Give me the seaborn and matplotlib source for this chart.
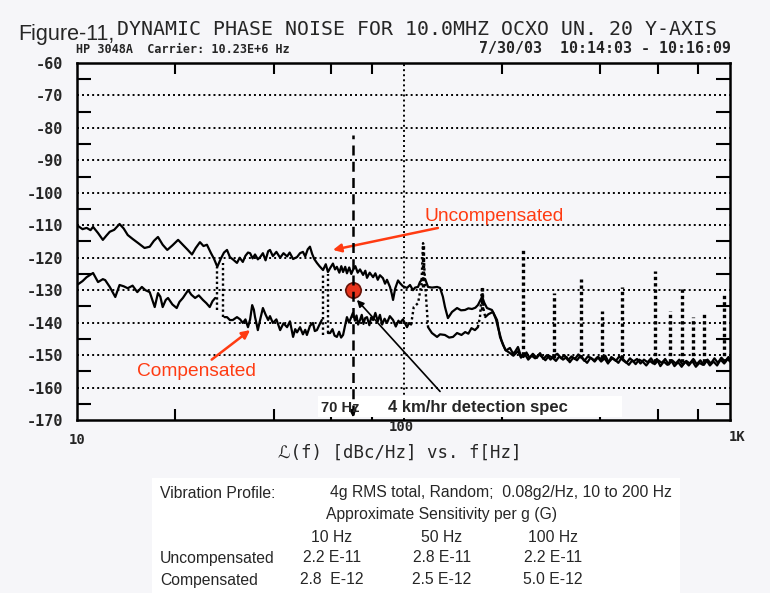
import matplotlib
matplotlib.use("Agg")
import matplotlib.pyplot as plt
from matplotlib.patches import Rectangle
from matplotlib.ticker import NullFormatter
import seaborn as sns

# ---- uncompensated trace (Hz, dBc/Hz) ----
unc_freq = [10.0, 10.4, 10.7, 11.0, 11.2, 11.6, 12.0, 12.3, 12.6, 13.0, 13.5, 13.9, 14.3, 14.8,
            15.4, 16.1, 16.7, 17.2, 17.7, 18.3, 18.9, 19.6, 20.4, 21.0, 21.8, 22.5, 23.1, 23.8,
            24.4, 25.0, 25.7, 26.3, 26.9, 27.6, 28.2, 28.8, 29.4, 30.1, 30.9, 31.5, 32.2, 32.8,
            33.4, 33.9, 34.5, 35.1, 35.8, 36.4, 37.1, 37.8, 38.5, 39.0, 39.8, 40.8, 41.9, 42.9,
            44.0, 44.8, 45.9, 47.2, 48.2, 49.2, 50.0, 50.9, 51.7, 52.5, 53.3, 54.3, 55.3, 56.7,
            57.8, 58.7, 59.6, 60.8, 61.7, 62.5, 63.6, 64.5, 65.3, 66.3, 67.1, 68.2, 69.2, 70.0,
            71.2, 72.4, 73.6, 75.2, 76.4, 77.3, 78.8, 80.7, 82.0, 83.4, 84.7, 86.5, 87.8, 89.0,
            90.9, 92.0, 92.9, 94.3, 96.2, 97.5, 99.6, 102.5, 104.7, 106.9, 108.5, 110.8, 112.3,
            114.8, 116.5, 118.9, 122.2, 126.7, 129.4, 132.0, 134.0, 136.8, 140.8, 145.9, 150.0,
            154.3, 158.0, 162.1, 166.0, 169.0, 174.0, 177.0, 180.2, 186.6, 193.4, 197.5, 201.8,
            206.0, 211.8, 216.4, 219.5, 224.2,
            228, 233, 238, 243, 249, 256, 262, 268, 275, 282, 289, 296, 304, 311, 319, 327, 335,
            343, 350, 358, 367, 376, 385, 395, 405, 415, 425, 436, 447, 458, 470, 482, 494, 506,
            519, 532, 545, 559, 573, 588, 603, 618, 633, 649, 665, 682, 699, 717, 735, 753, 772,
            791, 811, 832, 853, 874, 896, 918, 941, 965, 989, 1000]
unc_db = [-110.0, -111.2, -110.8, -111.5, -110.5, -112.4, -114.5, -113.2, -112.0, -111.4, -109.6,
          -111.0, -113.0, -114.2, -115.5, -117.0, -116.6, -114.8, -113.6, -116.0, -117.6, -116.2,
          -114.5, -115.8, -117.5, -119.0, -117.0, -115.2, -116.4, -116.0, -118.5, -120.4, -122.8,
          -120.2, -118.4, -117.6, -119.8, -120.6, -121.6, -120.0, -121.3, -119.4, -118.4, -118.6,
          -120.2, -119.0, -120.5, -119.8, -118.6, -120.8, -118.0, -117.6, -119.5, -118.2, -120.0,
          -118.6, -119.6, -118.4, -120.4, -119.8, -118.6, -118.2, -119.6, -117.4, -116.6, -118.8,
          -120.4, -121.6, -122.6, -123.8, -122.0, -124.4, -123.2, -121.8, -123.6, -122.8, -124.6,
          -122.6, -124.4, -122.8, -124.8, -123.0, -125.0, -123.8, -122.6, -124.6, -123.6, -125.3,
          -124.0, -126.2, -124.6, -126.0, -124.8, -126.8, -125.4, -126.3, -128.0, -126.8, -129.0,
          -131.0, -133.0, -129.5, -127.0, -127.8, -128.8, -129.3, -128.4, -130.0, -129.2, -129.0,
          -127.5, -126.3, -126.6, -129.0, -129.2, -129.0, -129.3, -132.0, -135.2, -138.6, -136.7,
          -135.5, -136.2, -136.1, -135.6, -135.8, -135.4, -134.6, -132.1, -134.0, -135.5, -136.1,
          -139.2, -144.4, -146.9, -148.6, -147.8, -149.5, -149.0, -147.5,
          -149.8, -150.6, -149.2, -150.8, -149.6, -150.9, -149.4, -151.2, -150.0, -151.4, -150.2,
          -149.6, -151.0, -150.0, -151.6, -150.4, -151.2, -149.8, -150.6, -151.8, -150.4, -151.0,
          -152.0, -150.6, -151.4, -150.2, -152.2, -151.0, -151.8, -150.4, -151.6, -152.4, -151.0,
          -152.0, -151.2, -152.6, -151.4, -152.2, -151.0, -152.8, -151.6, -152.4, -151.2, -152.9,
          -151.6, -152.6, -151.4, -153.0, -151.8, -152.6, -151.2, -152.8, -151.6, -153.0, -151.4,
          -152.6, -151.0, -152.4, -150.8, -152.0, -150.6, -151.4]

# ---- compensated trace, recorded in segments ----
comp_seg1_freq = [10.0, 10.4, 10.7, 11.2, 11.6, 12.0, 12.2, 12.6, 13.1, 13.5, 13.9, 14.3, 14.8,
                  15.3, 15.8, 16.2, 16.7, 17.3, 17.7, 18.0, 18.3, 18.7, 19.0, 19.6, 20.2, 20.6,
                  21.1, 21.9, 22.4, 23.0, 23.6, 24.3, 24.9, 25.5, 26.0, 26.5]
comp_seg1_db = [-128.4, -127.2, -126.0, -124.7, -127.5, -126.6, -126.9, -129.0, -132.1, -128.4,
                -128.8, -129.4, -128.6, -130.6, -129.0, -130.0, -130.6, -135.2, -130.9, -132.0,
                -135.2, -133.0, -132.4, -134.4, -135.5, -133.6, -132.4, -130.0, -131.4, -132.4,
                -131.6, -133.0, -134.0, -135.2, -133.4, -132.4]
comp_seg2_freq = [28.3, 28.8, 29.4, 30.0, 30.9, 31.6, 32.2, 32.8, 33.4, 33.9, 34.4, 34.8, 35.1,
                  35.5, 35.8, 36.4, 37.1, 37.8, 38.5, 39.0, 39.8, 40.8, 41.9, 42.9, 44.0, 44.9,
                  45.9, 46.6, 47.2, 48.2, 49.2, 50.0, 50.6, 51.7, 52.8, 53.5, 54.3, 55.3, 56.2]
comp_seg2_db = [-138.3, -138.3, -139.2, -139.2, -138.3, -139.0, -140.1, -139.0, -141.4, -139.0,
                -134.6, -136.0, -138.3, -140.5, -142.3, -139.0, -135.5, -137.5, -139.2, -138.0,
                -140.1, -139.0, -142.3, -140.2, -141.4, -139.6, -144.4, -142.0, -143.0, -141.4,
                -143.6, -142.2, -143.8, -141.0, -140.1, -142.6, -142.3, -140.6, -139.2]
comp_seg3_freq = [58.7, 59.6, 60.6, 61.5, 62.5, 63.5, 64.4, 65.3, 66.2, 67.1, 68.1, 69.0, 70.0,
                  71.0, 71.8, 72.6, 73.6, 74.5, 75.4, 76.3, 77.3, 78.6, 79.6, 80.7, 82.0, 83.4,
                  84.7, 86.0, 87.5, 89.0, 90.8, 92.9, 94.7, 96.5, 97.5, 99.6, 102.5, 104.0, 105.5]
comp_seg3_db = [-143.2, -143.2, -142.0, -144.0, -144.4, -142.8, -144.6, -143.8, -141.0, -138.3,
                -140.0, -138.6, -137.0, -139.4, -137.8, -140.6, -139.2, -137.6, -140.4, -138.6,
                -138.3, -140.8, -138.4, -139.2, -137.0, -139.6, -137.6, -140.6, -138.8, -140.1,
                -138.0, -139.2, -141.2, -139.4, -140.1, -139.0, -141.4, -140.1, -140.6]
comp_seg4_freq = [118.9, 122.2, 126.7, 129.4, 133.9, 138.0, 141.8, 145.9, 150.5, 154.5, 158.0,
                  161.5, 165.5, 169.0]
comp_seg4_db = [-141.4, -143.2, -144.4, -143.6, -143.8, -144.6, -144.4, -143.2, -143.8, -142.9,
                -143.4, -141.7, -142.3, -141.4]
comp_seg5_freq = [178, 182, 187.9, 192, 194.6, 199.5, 205, 212, 217, 224,
                  229, 235, 241, 247, 253, 260, 266, 272, 279, 286, 293, 300, 308, 316, 323, 331,
                  340, 348, 357, 365, 374, 384, 393, 403, 413, 423, 433, 444, 455, 466, 478, 490,
                  502, 514, 527, 540, 554, 568, 582, 597, 612, 627, 643, 660, 676, 694, 711, 729,
                  748, 766, 786, 806, 826, 847, 868, 890, 913, 936, 960, 984, 1000]
comp_seg5_db = [-138.3, -137.4, -136.7, -139.0, -141.4, -145.4, -148.4, -149.4, -150.2, -148.8,
                -150.8, -149.6, -151.4, -150.2, -151.0, -149.8, -150.6, -151.6, -150.2, -150.8,
                -151.8, -150.4, -151.4, -150.6, -152.2, -150.8, -151.6, -150.2, -151.4, -152.4,
                -150.8, -151.6, -150.6, -152.0, -151.0, -152.6, -150.6, -151.4, -152.4, -150.8,
                -152.0, -153.0, -151.6, -152.8, -151.4, -152.0, -153.2, -151.8, -152.6, -151.2,
                -153.4, -152.0, -153.0, -151.6, -153.4, -152.2, -153.6, -152.0, -153.2, -151.8,
                -153.6, -152.4, -153.0, -151.6, -153.2, -152.0, -153.2, -151.4, -152.6, -151.2,
                -152.0]
comp_segments = [(comp_seg1_freq, comp_seg1_db), (comp_seg2_freq, comp_seg2_db),
                 (comp_seg3_freq, comp_seg3_db), (comp_seg4_freq, comp_seg4_db),
                 (comp_seg5_freq, comp_seg5_db)]

# dotted pieces of the compensated trace between segments
comp_dot1_freq = [105.5, 107.5, 110.8, 113.5, 114.8, 116.5, 118.9]
comp_dot1_db = [-140.6, -135.2, -134.0, -128.0, -115.5, -128.0, -141.4]
comp_dot2_freq = [169.0, 171.5, 174.0, 176.0, 178.0]
comp_dot2_db = [-141.4, -138.3, -129.0, -136.0, -138.3]

# segment joins (Hz, top dB, bottom dB)
join_freq = [26.9, 28.0, 56.7, 58.7]
join_top = [-122.8, -121.6, -124.7, -125.0]
join_bot = [-136.0, -138.3, -143.8, -143.2]

# line-frequency spurs (Hz, peak dB, base dB)
spur_freq = [114.8, 174.0, 232, 289, 350, 405, 467, 589, 655, 712, 770, 833, 959]
spur_top = [-115.5, -129.0, -117.6, -130.8, -126.6, -136.4, -129.0, -124.0, -136.4, -128.7,
            -138.3, -137.0, -131.2]
spur_base = [-129.0, -136.0, -150.0, -151.0, -151.0, -151.0, -151.0, -152.0, -152.0, -152.0,
             -152.0, -152.0, -152.0]

y_ticks = [-170, -160, -150, -140, -130, -120, -110, -100, -90, -80, -70, -60]
x_minor = [20, 40, 60, 80, 200, 400, 600, 800]
spec_freq = 70
spec_db = -130

bg = '#f6f6f9'
red = '#ff3b12'
W, H = 770, 593


def fx(px):
    return px / W


def fy(py):
    return 1 - py / H


sns.set_style('ticks')
plt.rcParams['font.family'] = ['DejaVu Sans Mono', 'DejaVu Sans']

fig = plt.figure(figsize=(7.7, 5.93), dpi=100, facecolor=bg)
ax = fig.add_axes([fx(77), fy(420), fx(730) - fx(77), fy(63) - fy(420)])
ax.set_facecolor(bg)

# traces
sns.lineplot(x=unc_freq, y=unc_db, ax=ax, color='k', lw=1.6, sort=False, estimator=None)
for f, d in comp_segments:
    sns.lineplot(x=f, y=d, ax=ax, color='k', lw=1.6, sort=False, estimator=None)
dot = (0, (1, 1.2))
ax.plot(comp_dot1_freq, comp_dot1_db, color='k', lw=1.7, ls=dot)
ax.plot(comp_dot2_freq, comp_dot2_db, color='k', lw=1.7, ls=dot)
ax.vlines(join_freq, join_bot, join_top, color='k', lw=1.7, ls=dot)
ax.vlines(spur_freq, spur_base, spur_top, color='k', lw=2.4, ls=(0, (1, 0.9)))

ax.set_xscale('log')
ax.set_xlim(10, 1000)
ax.set_ylim(-170, -60)

# grid
ax.set_yticks(y_ticks)
ax.set_yticklabels([str(v) for v in y_ticks])
ax.set_yticks([v + 5 for v in y_ticks[:-1]], minor=True)
for v in y_ticks[1:-1]:
    ax.axhline(v, color='k', lw=1.4, ls=(0, (1, 1.6)), zorder=1)
ax.axvline(100, color='k', lw=1.4, ls=(0, (1, 1.6)), zorder=1)

ax.set_xticks([10, 100, 1000])
ax.set_xticks(x_minor, minor=True)
ax.xaxis.set_major_formatter(NullFormatter())
ax.xaxis.set_minor_formatter(NullFormatter())
ax.tick_params(axis='both', which='both', direction='in', top=True, right=True,
               color='k', width=1.5)
ax.tick_params(axis='y', which='major', length=0, pad=10)
ax.tick_params(axis='y', which='minor', length=10)
ax.tick_params(axis='x', which='major', length=0)
ax.tick_params(axis='x', which='minor', length=8)
for lab in ax.get_yticklabels():
    lab.set_fontweight('bold')
    lab.set_fontsize(11)
for sp in ax.spines.values():
    sp.set_color('k')
    sp.set_linewidth(1.8)

# x tick labels written like the plotter output
fig.text(fx(77), fy(440), '10', ha='center', va='center', fontsize=10, fontweight='bold')
fig.text(fx(401), fy(427), '100', ha='center', va='center', fontsize=10, fontweight='bold')
fig.text(fx(737), fy(437), '1K', ha='center', va='center', fontsize=10, fontweight='bold')
fig.text(fx(400), fy(453), 'ℒ(f) [dBc/Hz] vs. f[Hz]', ha='center', va='center', fontsize=12.5)

# header
fig.text(fx(18), fy(40), 'Figure-11,', family='Liberation Sans', fontsize=15.5, va='baseline')
fig.text(fx(117), fy(35), 'DYNAMIC PHASE NOISE FOR 10.0MHZ OCXO UN. 20 Y-AXIS',
         fontsize=14.3, va='baseline')
fig.text(fx(76), fy(53), 'HP 3048A  Carrier: 10.23E+6 Hz', fontsize=8.5,
         fontweight='bold', va='baseline')
fig.text(fx(731), fy(53), '7/30/03  10:14:03 - 10:16:09', fontsize=10.8,
         fontweight='bold', va='baseline', ha='right')

# 70 Hz detection spec marker
ax.add_patch(Rectangle((fx(318), fy(417)), fx(622) - fx(318), fy(396) - fy(417),
                       transform=fig.transFigure, fc='white', ec='none', zorder=3,
                       clip_on=False))
fig.text(fx(321), fy(412), '70 Hz', family='Liberation Sans', fontweight='bold',
         fontsize=10.5, va='baseline', zorder=5)
fig.text(fx(388), fy(412), '4 km/hr detection spec', family='Liberation Sans',
         fontweight='bold', fontsize=12, va='baseline', zorder=5)
ax.plot(spec_freq, spec_db, 'o', ms=11, mfc='#e8341c', mec='#6a1408', mew=1.2, zorder=6)
ax.vlines(spec_freq, -168.5, -82.2, color='k', lw=1.8, ls=(0, (4, 2.5)), zorder=7)
ax.annotate('', xy=(spec_freq, -170), xytext=(spec_freq, -166),
            arrowprops=dict(arrowstyle='-|>', color='k', lw=1.2, mutation_scale=10),
            zorder=7)

# callouts
ax.annotate('Uncompensated', xy=(60.8, -117.6), xytext=(116, -107.2), color=red,
            family='Liberation Sans', fontsize=13.8, va='center', ha='left',
            arrowprops=dict(arrowstyle='-|>', color=red, lw=1.8, mutation_scale=12,
                            shrinkA=0, shrinkB=0))
ax.annotate('Compensated', xy=(33.9, -142.3), xytext=(23.2, -152.4), color=red,
            family='Liberation Sans', fontsize=13.8, va='top', ha='center',
            arrowprops=dict(arrowstyle='-|>', color=red, lw=1.8, mutation_scale=12,
                            shrinkA=0, shrinkB=0))
ax.annotate('', xy=(72.0, -133.0), xytext=(129.4, -161.2),
            arrowprops=dict(arrowstyle='-|>', color='k', lw=1.2, mutation_scale=10,
                            shrinkA=0, shrinkB=0))

# vibration table
fig.patches.append(Rectangle((fx(152), 0), fx(680) - fx(152), fy(478),
                             transform=fig.transFigure, fc='white', ec='none'))
tkw = dict(family='Liberation Sans', fontsize=11.3, va='center')
fig.text(fx(160), fy(493), 'Vibration Profile:', **tkw)
fig.text(fx(672), fy(493), '4g RMS total, Random;  0.08g2/Hz, 10 to 200 Hz', ha='right',
         **tkw)
fig.text(fx(441), fy(515), 'Approximate Sensitivity per g (G)', ha='center', **tkw)
cols = [332, 442, 553]
for x, s in zip(cols, ['10 Hz', '50 Hz', '100 Hz']):
    fig.text(fx(x), fy(537), s, ha='center', **tkw)
fig.text(fx(160), fy(558), 'Uncompensated', **tkw)
fig.text(fx(160), fy(580), 'Compensated', **tkw)
for x, s in zip(cols, ['2.2 E-11', '2.8 E-11', '2.2 E-11']):
    fig.text(fx(x), fy(558), s, ha='center', **tkw)
for x, s in zip(cols, ['2.8  E-12', '2.5 E-12', '5.0 E-12']):
    fig.text(fx(x), fy(580), s, ha='center', **tkw)

fig.savefig('out.png', dpi=100, facecolor=bg)
